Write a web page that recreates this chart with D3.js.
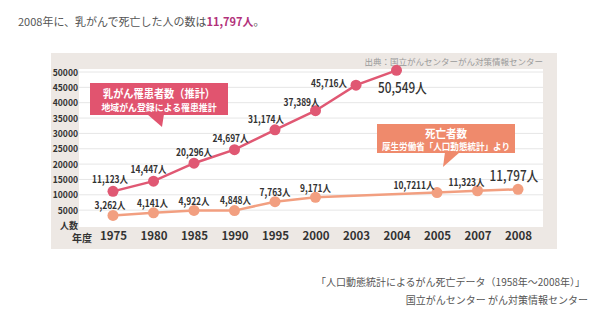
<!DOCTYPE html>
<html><head><meta charset="utf-8">
<script src="https://cdn.jsdelivr.net/npm/d3@7"></script>
<style>
html,body{margin:0;padding:0;background:#fff;}
svg{display:block;font-family:"Noto Sans CJK JP","Noto Sans",sans-serif;}
</style></head>
<body>
<svg id="chart" width="600" height="324"></svg>
<script>
const years = ["1975","1980","1985","1990","1995","2000","2003","2004","2005","2007","2008"];
const incidence = [11123,14447,20296,24697,31174,37389,45716,50549,null,null,null];
const incidenceLabels = ["11,123人","14,447人","20,296人","24,697人","31,174人","37,389人","45,716人","50,549人",null,null,null];
const deaths = [3262,4141,4922,4848,7763,9171,null,null,10721,11323,11797];
const deathLabels = ["3,262人","4,141人","4,922人","4,848人","7,763人","9,171人",null,null,"10,7211人","11,323人","11,797人"];
const yTicks = [5000,10000,15000,20000,25000,30000,35000,40000,45000,50000];

const svg = d3.select("#chart");
const pink = "#e1546f", pinkLine = "#e05873";
const orange = "#ef8a6c", orangeLine = "#f29f80";

function squeeze(sel, f) {
  sel.each(function() {
    const w = this.getComputedTextLength();
    d3.select(this).attr("textLength", w * f).attr("lengthAdjust", "spacingAndGlyphs");
  });
}

// title
const title = svg.append("text").attr("x", 18).attr("y", 26).attr("font-size", 11).attr("fill", "#555");
title.append("tspan").text("2008年に、乳がんで死亡した人の数は");
title.append("tspan").attr("font-weight", "bold").attr("fill", "#b2307a").text("11,797人");
title.append("tspan").text("。");

// panel
svg.append("rect").attr("x", 51).attr("y", 53).attr("width", 506).attr("height", 196).attr("fill", "#ede8e4");
svg.append("rect").attr("x", 79).attr("y", 69).attr("width", 464).attr("height", 158).attr("fill", "#fff");
svg.append("text").attr("x", 543).attr("y", 65).attr("text-anchor", "end").attr("font-size", 8.5).attr("fill", "#9a9a9a")
  .text("出典：国立がんセンターがん対策情報センター");

const x = d3.scalePoint().domain(years).range([113, 518]);
const y = d3.scaleLinear().domain([0, 50000]).range([225.5, 72]);

// grid
svg.append("g").selectAll("line").data(yTicks).join("line")
  .attr("x1", 79).attr("x2", 543).attr("y1", d => y(d)).attr("y2", d => y(d))
  .attr("stroke", "#e6e6e6").attr("stroke-width", 1);

// y axis
const yAxis = d3.axisLeft(y).tickValues(yTicks).tickSize(0).tickPadding(0).tickFormat(d3.format("d"));
const yg = svg.append("g").attr("transform", "translate(78,0)").call(yAxis);
yg.select(".domain").remove();
yg.selectAll("text").attr("font-size", 9.5).attr("font-weight", "bold").attr("fill", "#333")
  .attr("font-family", "'Noto Sans CJK JP',sans-serif");
squeeze(yg.selectAll("text"), 0.9);
svg.append("text").attr("x", 78).attr("y", 228.5).attr("text-anchor", "end").attr("font-size", 9)
  .attr("font-weight", "bold").attr("fill", "#333").text("人数");

// x axis
const xAxis = d3.axisBottom(x).tickSize(0).tickPadding(0);
const xg = svg.append("g").attr("transform", "translate(0,232)").call(xAxis);
xg.select(".domain").remove();
xg.selectAll("text").attr("font-size", 11.5).attr("font-weight", "bold").attr("fill", "#333")
  .attr("font-family", "'Noto Sans CJK JP',sans-serif");
svg.append("text").attr("x", 92).attr("y", 242).attr("text-anchor", "end").attr("font-size", 10)
  .attr("font-weight", "bold").attr("fill", "#333").text("年度");

// lines
function series(vals, color, lineColor, labels, offsets, bigIdx) {
  const pts = years.map((yr, i) => ({yr, v: vals[i], lab: labels[i], off: offsets[i], i})).filter(d => d.v != null);
  svg.append("path").datum(pts)
    .attr("d", d3.line().x(d => x(d.yr)).y(d => y(d.v)))
    .attr("fill", "none").attr("stroke", lineColor).attr("stroke-width", 2.5);
  svg.append("g").selectAll("circle").data(pts).join("circle")
    .attr("cx", d => x(d.yr)).attr("cy", d => y(d.v)).attr("r", 5.5).attr("fill", lineColor);
  const t = svg.append("g").selectAll("text").data(pts).join("text")
    .attr("x", d => x(d.yr) + d.off[0]).attr("y", d => y(d.v) + d.off[1])
    .attr("text-anchor", "middle").attr("dominant-baseline", "central")
    .attr("font-size", d => d.i === bigIdx ? 14 : 10)
    .attr("font-weight", d => d.i === bigIdx ? 500 : "bold")
    .attr("fill", "#333").text(d => d.lab);
  squeeze(t, 0.84);
}
const incOffsets = [[-3,-13],[-5,-13],[0,-12],[-4,-12],[-9,-11],[-14,-9],[-27,-3],[6,17],null,null,null];
const deathOffsets = [[-3,-11],[-1,-10],[0,-10],[1,-11],[0,-10],[0,-10],null,null,[-23,-8],[-11,-9],[-4,-14]];
series(deaths, orange, orangeLine, deathLabels, deathOffsets, 10);
series(incidence, pink, pinkLine, incidenceLabels, incOffsets, 7);

// callouts
function fitText(px, py, size, w, txt) {
  svg.append("text").attr("x", px).attr("y", py).attr("text-anchor", "middle").attr("dominant-baseline", "central")
    .attr("font-size", size).attr("font-weight", "bold").attr("fill", "#fff")
    .attr("textLength", w).attr("lengthAdjust", "spacingAndGlyphs").text(txt);
}
svg.append("rect").attr("x", 90).attr("y", 83).attr("width", 138).attr("height", 32).attr("fill", pink);
svg.append("polygon").attr("points", "147,114 164,114 162,127").attr("fill", pink);
fitText(159, 92.5, 11.5, 112, "乳がん罹患者数（推計）");
fitText(159, 107, 9.5, 115, "地域がん登録による罹患推計");

svg.append("rect").attr("x", 377).attr("y", 124).attr("width", 138).attr("height", 29).attr("fill", orange);
svg.append("polygon").attr("points", "445,152 460,152 443,167").attr("fill", orange);
fitText(446, 132.5, 11.5, 42, "死亡者数");
fitText(446, 146, 9.5, 128, "厚生労働省「人口動態統計」より");

// footer
svg.append("text").attr("x", 585).attr("y", 286).attr("text-anchor", "end").attr("font-size", 10).attr("fill", "#555")
  .text("「人口動態統計によるがん死亡データ（1958年〜2008年）」");
svg.append("text").attr("x", 588).attr("y", 304).attr("text-anchor", "end").attr("font-size", 10).attr("fill", "#555")
  .text("国立がんセンター がん対策情報センター");
</script>
</body></html>
